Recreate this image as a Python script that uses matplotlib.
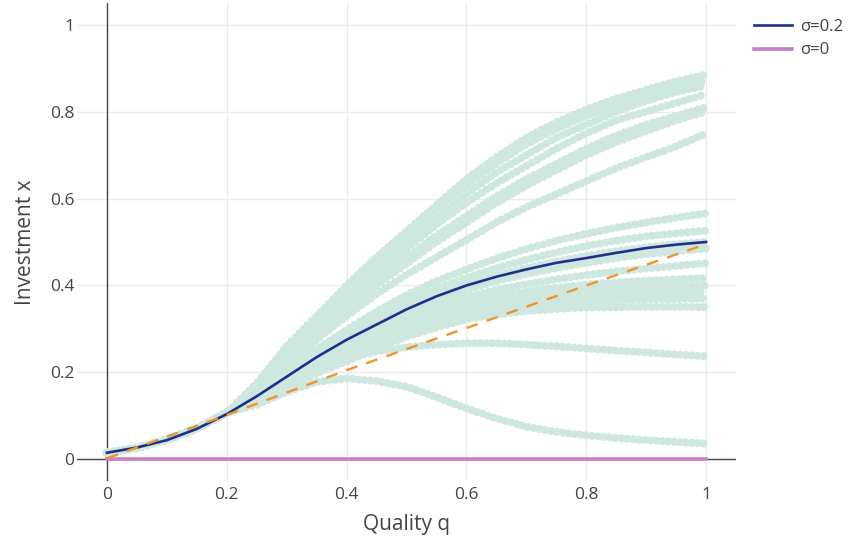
import numpy as np
import matplotlib
matplotlib.use("Agg")
import matplotlib.pyplot as plt

plt.rcParams['font.family'] = ['Open Sans', 'DejaVu Sans']

# grid of quality values
q = [0.0, 0.05, 0.1, 0.15, 0.2, 0.25, 0.3, 0.35, 0.4, 0.45, 0.5,
     0.55, 0.6, 0.65, 0.7, 0.75, 0.8, 0.85, 0.9, 0.95, 1.0]

# common start (q = 0 .. 0.2), all simulated curves lie together here
x_start = [0.015, 0.026, 0.045, 0.071, 0.107]

# simulated curves, values for q = 0.25 .. 1.0
sim_upper = [
    [0.175, 0.26, 0.33, 0.40, 0.465, 0.525, 0.585, 0.645, 0.695, 0.74, 0.775, 0.805, 0.83, 0.85, 0.87, 0.885],
    [0.17, 0.25, 0.32, 0.39, 0.455, 0.515, 0.575, 0.63, 0.68, 0.725, 0.76, 0.79, 0.815, 0.84, 0.855, 0.87],
    [0.165, 0.24, 0.31, 0.375, 0.44, 0.50, 0.555, 0.61, 0.66, 0.70, 0.74, 0.77, 0.80, 0.825, 0.845, 0.86],
    [0.16, 0.235, 0.30, 0.365, 0.425, 0.485, 0.54, 0.59, 0.635, 0.675, 0.715, 0.75, 0.78, 0.80, 0.82, 0.84],
    [0.155, 0.225, 0.29, 0.35, 0.41, 0.465, 0.515, 0.56, 0.605, 0.645, 0.68, 0.715, 0.745, 0.77, 0.79, 0.81],
    [0.155, 0.22, 0.28, 0.34, 0.40, 0.45, 0.50, 0.545, 0.59, 0.63, 0.665, 0.70, 0.73, 0.755, 0.78, 0.80],
    [0.15, 0.215, 0.275, 0.33, 0.38, 0.425, 0.465, 0.505, 0.545, 0.58, 0.61, 0.64, 0.67, 0.695, 0.72, 0.75],
]
sim_middle = [
    [0.155, 0.205, 0.253, 0.298, 0.34, 0.378, 0.41, 0.437, 0.462, 0.484, 0.503, 0.519, 0.533, 0.545, 0.556, 0.566],
    [0.15, 0.197, 0.243, 0.286, 0.326, 0.362, 0.392, 0.418, 0.44, 0.459, 0.476, 0.491, 0.503, 0.513, 0.52, 0.526],
    [0.147, 0.192, 0.236, 0.277, 0.316, 0.35, 0.378, 0.402, 0.423, 0.44, 0.455, 0.468, 0.479, 0.488, 0.495, 0.50],
    [0.145, 0.188, 0.23, 0.27, 0.307, 0.34, 0.367, 0.39, 0.41, 0.426, 0.44, 0.452, 0.463, 0.472, 0.479, 0.485],
    [0.142, 0.184, 0.225, 0.262, 0.297, 0.328, 0.353, 0.373, 0.39, 0.403, 0.414, 0.424, 0.432, 0.439, 0.445, 0.451],
    [0.14, 0.181, 0.22, 0.255, 0.288, 0.317, 0.341, 0.36, 0.375, 0.386, 0.395, 0.402, 0.407, 0.411, 0.414, 0.417],
    [0.138, 0.178, 0.215, 0.248, 0.28, 0.308, 0.331, 0.35, 0.364, 0.374, 0.382, 0.388, 0.393, 0.396, 0.398, 0.40],
    [0.136, 0.175, 0.21, 0.242, 0.272, 0.30, 0.322, 0.34, 0.353, 0.362, 0.369, 0.375, 0.379, 0.382, 0.384, 0.385],
    [0.135, 0.172, 0.205, 0.235, 0.265, 0.292, 0.313, 0.331, 0.343, 0.352, 0.358, 0.363, 0.366, 0.368, 0.369, 0.37],
    [0.133, 0.168, 0.198, 0.225, 0.255, 0.282, 0.303, 0.322, 0.333, 0.341, 0.346, 0.349, 0.35, 0.351, 0.351, 0.35],
]
sim_lower = [
    [0.13, 0.165, 0.198, 0.232, 0.248, 0.258, 0.264, 0.267, 0.267, 0.264, 0.26, 0.255, 0.25, 0.246, 0.241, 0.237],
    [0.125, 0.155, 0.178, 0.186, 0.18, 0.167, 0.143, 0.117, 0.094, 0.075, 0.063, 0.055, 0.049, 0.044, 0.04, 0.036],
]

# mean investment, sigma = 0.2
x_sigma02 = [0.015, 0.027, 0.044, 0.070, 0.104, 0.145, 0.19, 0.235, 0.275, 0.31, 0.345,
             0.375, 0.40, 0.42, 0.437, 0.452, 0.463, 0.475, 0.486, 0.494, 0.50]

# sigma = 0
q_zero = [0.0, 1.0]
x_sigma0 = [0.0, 0.0]

# reference (dashed)
q_ref = [0.0, 0.2, 0.4, 0.6, 0.8, 1.0]
x_ref = [0.002, 0.102, 0.205, 0.302, 0.40, 0.495]

fig = plt.figure(figsize=(8.51, 5.41), dpi=100)
ax = fig.add_axes([77 / 851, 1 - 481 / 541, (736 - 77) / 851, (481 - 3) / 541])

for curve in sim_upper + sim_middle + sim_lower:
    ax.plot(q, x_start + curve, color='#cfe8df', lw=5.8,
            linestyle=(0, (0.01, 0.72)), dash_capstyle='round', zorder=2)

ax.plot(q_zero, x_sigma0, color='#c97fc5', lw=2.6, zorder=3, label='σ=0')
ax.plot(q, x_sigma02, color='#1f2f8a', lw=1.9, zorder=4, label='σ=0.2')
ax.plot(q_ref, x_ref, color='#f0952a', lw=1.7, linestyle=(0, (5, 4)), zorder=5)

ax.set_xlim(-0.05, 1.05)
ax.set_ylim(-0.05, 1.05)
ticks = [0, 0.2, 0.4, 0.6, 0.8, 1]
labels = ['0', '0.2', '0.4', '0.6', '0.8', '1']
ax.set_xticks(ticks)
ax.set_xticklabels(labels)
ax.set_yticks(ticks)
ax.set_yticklabels(labels)
ax.tick_params(length=0, labelsize=12.5, labelcolor='#444444')
ax.tick_params(axis='x', pad=4)
ax.tick_params(axis='y', pad=2)
ax.grid(True, color='#ebebeb', lw=1)
ax.set_axisbelow(True)
for s in ax.spines.values():
    s.set_visible(False)
ax.axhline(0, color='#444444', lw=1, zorder=1)
ax.axvline(0, color='#444444', lw=1, zorder=1)

ax.set_xlabel('Quality q', fontsize=15, color='#444444', labelpad=8)
ax.set_ylabel('Investment x', fontsize=15, color='#444444', labelpad=10)

h, l = ax.get_legend_handles_labels()
fig.legend([h[1], h[0]], [l[1], l[0]], loc='upper left',
           bbox_to_anchor=(754 / 851, 1 - 19 / 541), frameon=False,
           fontsize=12, handlelength=2.3, handletextpad=0.45, borderpad=0,
           labelcolor='#444444', borderaxespad=0, labelspacing=0.45)

fig.savefig('out.png', dpi=100)
